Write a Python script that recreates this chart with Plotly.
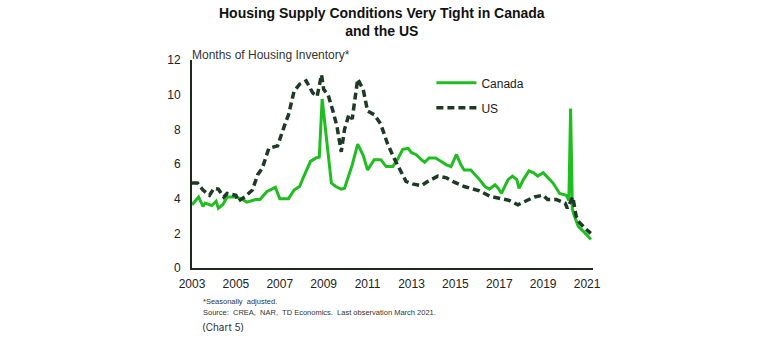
import plotly.graph_objects as go

# Months of housing inventory, seasonally adjusted (decimal years)
canada_x = [2003.0, 2003.3, 2003.5, 2003.6, 2003.9, 2004.1, 2004.2, 2004.4, 2004.6, 2005.0,
            2005.3, 2005.5, 2005.9, 2006.1, 2006.4, 2006.8, 2007.0, 2007.4, 2007.65, 2007.9,
            2008.1, 2008.4, 2008.65, 2008.8, 2008.93, 2009.35, 2009.55, 2009.8, 2009.95, 2010.15,
            2010.3, 2010.55, 2010.8, 2011.0, 2011.3, 2011.6, 2011.85, 2012.15, 2012.4, 2012.6,
            2012.85, 2013.0, 2013.2, 2013.45, 2013.6, 2013.8, 2014.1, 2014.35, 2014.6, 2014.8,
            2015.05, 2015.25, 2015.4, 2015.7, 2015.9, 2016.1, 2016.35, 2016.55, 2016.8, 2016.95,
            2017.1, 2017.25, 2017.4, 2017.6, 2017.8, 2017.9, 2018.1, 2018.35, 2018.55, 2018.75,
            2019.0, 2019.15, 2019.45, 2019.75, 2020.05, 2020.17, 2020.25, 2020.33, 2020.42, 2020.6,
            2020.85, 2021.0, 2021.17]
canada = [3.65, 4.1, 3.55, 3.75, 3.6, 3.85, 3.45, 3.65, 4.1, 4.1,
          3.95, 3.8, 3.95, 3.95, 4.4, 4.65, 4.0, 4.0, 4.5, 4.7,
          5.3, 6.15, 6.35, 6.4, 9.75, 4.9, 4.7, 4.55, 4.6, 5.4,
          5.95, 7.15, 6.5, 5.65, 6.25, 6.25, 5.85, 5.85, 6.35, 6.85,
          6.9, 6.65, 6.55, 6.25, 6.1, 6.35, 6.35, 6.15, 5.95, 5.85,
          6.55, 5.95, 5.65, 5.65, 5.4, 5.1, 4.7, 4.55, 4.8, 4.6,
          4.3, 4.7, 5.1, 5.3, 5.1, 4.6, 5.1, 5.6, 5.5, 5.3,
          5.5, 5.3, 4.9, 4.3, 4.2, 3.9, 9.2, 3.4, 3.0, 2.4,
          2.1, 1.9, 1.65]

us_x = [2003.0, 2003.25, 2003.5, 2003.8, 2004.0, 2004.2, 2004.45, 2004.6, 2005.0, 2005.1,
        2005.4, 2005.75, 2006.0, 2006.2, 2006.5, 2006.9, 2007.25, 2007.4, 2007.65, 2007.9,
        2008.2, 2008.5, 2008.7, 2008.9, 2009.0, 2009.2, 2009.4, 2009.6, 2009.8, 2009.95,
        2010.15, 2010.3, 2010.55, 2010.8, 2011.0, 2011.3, 2011.6, 2011.9, 2012.2, 2012.5,
        2012.75, 2013.05, 2013.45, 2013.75, 2014.2, 2014.6, 2014.95, 2015.4, 2015.9, 2016.1,
        2016.55, 2017.0, 2017.45, 2017.85, 2018.2, 2018.6, 2019.0, 2019.2, 2019.6, 2020.0,
        2020.1, 2020.35, 2020.5, 2020.6, 2020.9, 2021.05, 2021.17]
us = [4.9, 4.9, 4.5, 4.2, 4.6, 4.55, 4.1, 4.3, 4.2, 3.85,
      4.1, 4.5, 5.4, 5.75, 6.9, 7.05, 8.35, 8.85, 10.2, 10.6,
      10.8, 10.1, 9.9, 11.15, 10.3, 10.0, 9.15, 8.2, 6.7, 8.0,
      8.85, 8.6, 10.9, 10.3, 9.05, 8.85, 8.3, 7.2, 6.35, 5.6,
      5.0, 4.85, 4.75, 5.0, 5.3, 5.2, 4.95, 4.7, 4.55, 4.45,
      4.15, 4.0, 3.9, 3.65, 3.85, 4.1, 4.2, 3.95, 3.95, 3.75,
      3.45, 4.1, 3.0, 2.7, 2.3, 2.1, 2.0]

year_ticks = list(range(2003, 2022, 2))
month_ticks = [0, 2, 4, 6, 8, 10, 12]

GREEN = "#20bd20"
DARK = "#1c3a25"
AXIS = "#1e2a1e"
FONT = "Liberation Sans, Arial, sans-serif"

fig = go.Figure()
fig.add_trace(go.Scatter(x=canada_x, y=canada, name="Canada", mode="lines",
                         legendgroup="ca",
                         line=dict(color=GREEN, width=3)))
fig.add_trace(go.Scatter(x=us_x, y=us, name="US", mode="lines",
                         legendgroup="us",
                         line=dict(color=DARK, width=3.5, dash="7px,4px")))

fig.update_layout(
    width=770, height=342,
    margin=dict(l=192, r=177, t=60, b=74),
    paper_bgcolor="white", plot_bgcolor="white",
    font=dict(family=FONT, size=12, color="#222222"),
    showlegend=True,
    legend=dict(x=0.597, y=0.96, xanchor="left", yanchor="top",
                bgcolor="rgba(0,0,0,0)", font=dict(size=12, color="#222222"),
                tracegroupgap=6, itemwidth=40),
    xaxis=dict(range=[2003, 2021.27], tickvals=year_ticks,
               ticktext=[str(y) for y in year_ticks],
               showgrid=False, zeroline=False, showline=True,
               linecolor=AXIS, linewidth=2, ticks="", ticklabelstandoff=4,
               tickfont=dict(size=12, color="#222222")),
    yaxis=dict(range=[0, 12], tickvals=month_ticks,
               showgrid=False, zeroline=False, showline=True,
               linecolor=AXIS, linewidth=2, ticks="", ticklabelstandoff=7,
               tickfont=dict(size=12, color="#222222")),
    annotations=[
        dict(text="<b>Housing Supply Conditions Very Tight in Canada<br>and the US</b>",
             xref="paper", yref="paper", x=0.475, y=1.273, xanchor="center", yanchor="top",
             showarrow=False, align="center",
             font=dict(family=FONT, size=14, color="#111111")),
        dict(text="Months of Housing Inventory*",
             xref="paper", yref="paper", x=-0.005, y=1.024, xanchor="left", yanchor="middle",
             showarrow=False, font=dict(family=FONT, size=12, color="#333333")),
        dict(text="*Seasonally  adjusted.",
             xref="paper", yref="paper", x=0.022, y=-0.159, xanchor="left", yanchor="middle",
             showarrow=False, align="left",
             font=dict(family=FONT, size=7.5, color="#333333")),
        dict(text="Source:  CREA,  NAR,  TD Economics.  Last observation March 2021.",
             xref="paper", yref="paper", x=0.022, y=-0.212, xanchor="left", yanchor="middle",
             showarrow=False, align="left",
             font=dict(family=FONT, size=7.5, color="#333333")),
        dict(text="(Chart 5)",
             xref="paper", yref="paper", x=0.02, y=-0.283, xanchor="left", yanchor="middle",
             showarrow=False, align="left",
             font=dict(family="Inter, Lato, sans-serif", size=10, color="#333333")),
    ],
)

fig.write_html("out.html")
